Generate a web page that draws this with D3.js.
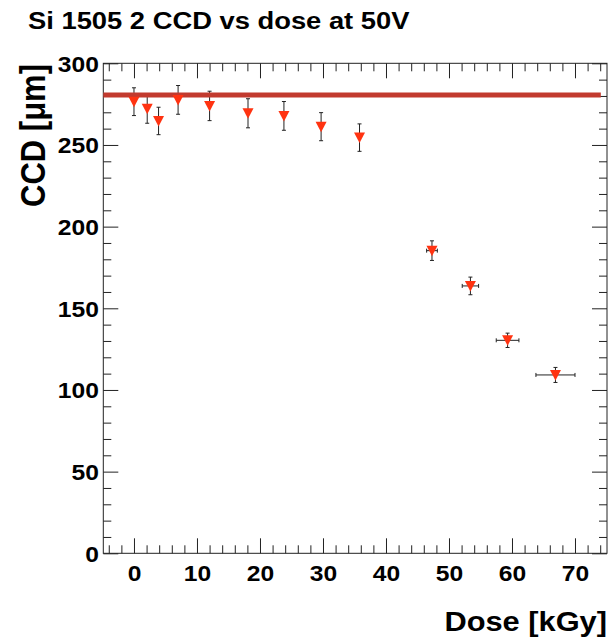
<!DOCTYPE html>
<meta charset="utf-8">
<script src="https://d3js.org/d3.v7.min.js"></script>
<style>
  body { margin: 0; background: #fff; }
  text { font-family: "Liberation Sans", Arial, sans-serif; font-weight: bold; fill: #000; }
</style>
<div id="my_dataviz"></div>
<script>
var dose    = [0, 2.1, 3.9, 7.0, 12.0, 18.1, 23.8, 29.7, 35.8, 47.3, 53.4, 59.3, 66.9];
var doseErr = [0, 0, 0, 0, 0, 0, 0, 0, 0, 0.85, 1.3, 1.8, 3.1];
var ccd     = [276.5, 272.1, 264.7, 277.6, 273.9, 269.4, 267.8, 261.2, 254.5, 185.3, 163.7, 130.4, 109.2];
var ccdErr  = [8.5, 8.8, 8.4, 8.8, 9.0, 8.9, 8.8, 8.6, 8.4, 6.0, 5.4, 4.4, 4.6];

// reference level (thickness) drawn as a horizontal line
var refLevel = [280.6];
var refRange = [-4.87, 74.1];

var xTicks = [0, 10, 20, 30, 40, 50, 60, 70];
var yTicks = [0, 50, 100, 150, 200, 250, 300];

var stretch = 1.12;

var margin = {top: 63.3, right: 2, bottom: 86.7, left: 103.3},
    W = 609, H = 640,
    width = W - margin.left - margin.right,
    height = H - margin.top - margin.bottom;

var svg = d3.select("#my_dataviz")
  .append("svg")
    .attr("width", W)
    .attr("height", H);

var g = svg.append("g")
    .attr("transform", "translate(" + margin.left + "," + margin.top + ")");

var x = d3.scaleLinear().domain([-4.87, 75.08]).range([0, width]);
var y = d3.scaleLinear().domain([0, 300]).range([height, 0]);

var xMinor = d3.range(-4, 75, 2).filter(function(d) { return d % 10 != 0; });
var yMinor = d3.range(10, 300, 10).filter(function(d) { return d % 50 != 0; });

function styleAxis(sel) {
  sel.select(".domain").remove();
  sel.selectAll("line").attr("stroke", "#222").attr("stroke-width", 1);
}

// bottom
g.append("g").attr("transform", "translate(0," + height + ")")
  .call(d3.axisBottom(x).tickValues(xTicks).tickSize(-15).tickSizeOuter(0).tickPadding(12))
  .call(styleAxis)
  .selectAll("text")
    .style("font-size", "22px")
    .attr("dy", "0.72em")
    .attr("transform", "scale(" + stretch + ",1)");
g.append("g").attr("transform", "translate(0," + height + ")")
  .call(d3.axisBottom(x).tickValues(xMinor).tickSize(-8).tickFormat(""))
  .call(styleAxis);
// top
g.append("g")
  .call(d3.axisTop(x).tickValues(xTicks).tickSize(-15).tickFormat(""))
  .call(styleAxis);
g.append("g")
  .call(d3.axisTop(x).tickValues(xMinor).tickSize(-8).tickFormat(""))
  .call(styleAxis);
// left
g.append("g")
  .call(d3.axisLeft(y).tickValues(yTicks).tickSize(-15).tickPadding(4))
  .call(styleAxis)
  .selectAll("text")
    .style("font-size", "22px")
    .attr("dy", "0.36em")
    .attr("transform", "scale(" + stretch + ",1)");
g.append("g")
  .call(d3.axisLeft(y).tickValues(yMinor).tickSize(-8).tickFormat(""))
  .call(styleAxis);
// right
g.append("g").attr("transform", "translate(" + width + ",0)")
  .call(d3.axisRight(y).tickValues(yTicks).tickSize(-15).tickFormat(""))
  .call(styleAxis);
g.append("g").attr("transform", "translate(" + width + ",0)")
  .call(d3.axisRight(y).tickValues(yMinor).tickSize(-8).tickFormat(""))
  .call(styleAxis);

// frame
g.append("rect")
  .attr("width", width).attr("height", height)
  .attr("fill", "none").attr("stroke", "#222").attr("stroke-width", 1);

var pts = dose.map(function(d, i) {
  return {x: d, ex: doseErr[i], y: ccd[i], ey: ccdErr[i]};
});

// error bars
var eb = g.append("g").attr("stroke", "#222").attr("stroke-width", 1);
pts.forEach(function(p) {
  var cx = x(p.x), cy = y(p.y);
  eb.append("line").attr("x1", cx).attr("x2", cx).attr("y1", y(p.y + p.ey)).attr("y2", y(p.y - p.ey));
  eb.append("line").attr("x1", cx - 2).attr("x2", cx + 2).attr("y1", y(p.y + p.ey)).attr("y2", y(p.y + p.ey));
  eb.append("line").attr("x1", cx - 2).attr("x2", cx + 2).attr("y1", y(p.y - p.ey)).attr("y2", y(p.y - p.ey));
  if (p.ex > 0) {
    eb.append("line").attr("x1", x(p.x - p.ex)).attr("x2", x(p.x + p.ex)).attr("y1", cy).attr("y2", cy);
    eb.append("line").attr("x1", x(p.x - p.ex)).attr("x2", x(p.x - p.ex)).attr("y1", cy - 2).attr("y2", cy + 2);
    eb.append("line").attr("x1", x(p.x + p.ex)).attr("x2", x(p.x + p.ex)).attr("y1", cy - 2).attr("y2", cy + 2);
  }
});

// reference line
g.append("line")
  .attr("x1", x(refRange[0])).attr("x2", x(refRange[1]))
  .attr("y1", y(refLevel[0])).attr("y2", y(refLevel[0]))
  .attr("stroke", "#c23a2e").attr("stroke-width", 5);

// markers: downward triangles
g.selectAll("path.mk")
  .data(pts)
  .enter()
  .append("path")
    .attr("class", "mk")
    .attr("d", function(p) {
      var cx = x(p.x), cy = y(p.y);
      return "M" + (cx - 5.5) + "," + (cy - 5) + "L" + (cx + 5.5) + "," + (cy - 5) + "L" + cx + "," + (cy + 5.5) + "Z";
    })
    .attr("fill", "#ff3311");

// titles
svg.append("text")
  .attr("transform", "translate(28,29) scale(1.14,1)")
  .style("font-size", "24px")
  .text("Si 1505 2 CCD vs dose at 50V");

svg.append("text")
  .attr("transform", "translate(607,631) scale(1.1,1)")
  .style("font-size", "28px")
  .style("text-anchor", "end")
  .text("Dose [kGy]");

svg.append("text")
  .attr("transform", "translate(45,64) scale(" + stretch + ",1) rotate(-90)")
  .style("font-size", "31px")
  .style("text-anchor", "end")
  .text("CCD [\u03bcm]");
</script>
